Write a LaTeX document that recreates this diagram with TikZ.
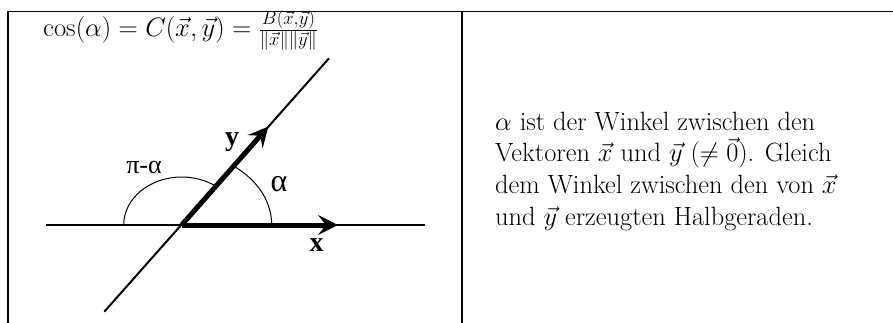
\RequirePackage{fix-cm}
\documentclass[tikz,border=0pt]{standalone}
\usepackage{fontspec}
\usetikzlibrary{arrows.meta}
\newfontfamily\tmsfont{Liberation Serif}
\tikzset{
  frame/.style={line width=1.8pt},
  thinline/.style={line width=2pt},
  vecarrow/.style={line width=5pt, -{Stealth[length=20pt, width=20pt, inset=8pt]}},
  anglearc/.style={line width=1pt},
  lbl/.style={inner sep=0pt, outer sep=0pt},
  bodytext/.style={inner sep=0pt, anchor=base west, font=\fontsize{26.4}{31.5}\selectfont},
  formulatext/.style={inner sep=0pt, anchor=base west, font=\fontsize{26.6}{31.5}\selectfont}
}
\begin{document}
\begin{tikzpicture}[x=1pt,y=-1pt]
\useasboundingbox (0,0) rectangle (893,322);
% frame
\coordinate (BL) at (8,323);
\coordinate (TL) at (8,11.5);
\coordinate (TR) at (894,11.5);
\coordinate (DT) at (462,11.5);
\coordinate (DB) at (462,323);
\draw[frame] (BL) -- (TL) -- (TR);
\draw[frame] (DT) -- (DB);
% geometry
\coordinate (O) at (181.7,225);
\coordinate (HL) at (46,225);
\coordinate (HR) at (425,225);
\coordinate (YL) at (104.3,311.7);
\coordinate (YR) at (329,58.3);
\coordinate (Xtip) at (338,225);
\coordinate (Ytip) at (268.3,126.7);
\draw[thinline] (HL) -- (HR);
\draw[thinline] (YL) -- (YR);
\draw[vecarrow] (O) -- (Xtip);
\draw[vecarrow] (O) -- (Ytip);
\draw[anglearc] (O) ++(90,0) arc[start angle=0, end angle=-54.7, x radius=90, y radius=72];
\draw[anglearc] (O) ++(-58,0) arc[start angle=180, end angle=306.1, x radius=58, y radius=48];
% labels
\node[lbl] (ylab) at (232,142.5) {\tmsfont\bfseries\fontsize{28}{28}\selectfont y};
\node[lbl] (xlab) at (316.5,245) {\tmsfont\bfseries\fontsize{28}{28}\selectfont x};
\node[lbl] (pilab) at (144,167.5) {\tmsfont\fontsize{26}{26}\selectfont π-α};
\node[lbl] (alab) at (279,184.5) {\tmsfont\fontsize{32}{32}\selectfont α};
% formula
\node[formulatext] (formula) at (43,36.7) {$\cos(\alpha)=C(\vec{x},\vec{y})=\frac{B(\vec{x},\vec{y})}{\|\vec{x}\|\|\vec{y}\|}$};
% right text
\node[bodytext] (t1) at (495,130.7) {$\alpha$ ist der Winkel zwischen den};
\node[bodytext] (t2) at (495,161.7) {Vektoren $\vec{x}$ und $\vec{y}$ $(\neq\vec{0})$. Gleich};
\node[bodytext] (t3) at (495,193) {dem Winkel zwischen den von $\vec{x}$};
\node[bodytext] (t4) at (495,225) {und $\vec{y}$ erzeugten Halbgeraden.};
\end{tikzpicture}
\end{document}
